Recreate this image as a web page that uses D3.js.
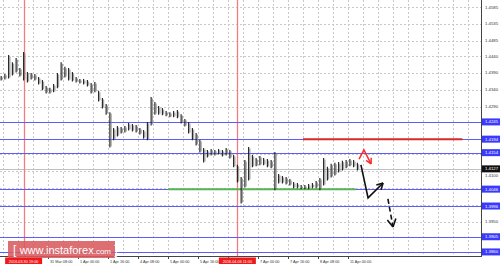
<!DOCTYPE html>
<html>
<head>
<meta charset="utf-8">
<script src="https://cdn.jsdelivr.net/npm/d3@7"></script>
<style>
  html, body { margin: 0; padding: 0; background: #fff; }
  svg { display: block; font-family: "Liberation Sans", Arial, sans-serif; }
</style>
</head>
<body>
<svg id="chart" width="500" height="265"></svg>
<script>
// H1 bars, one drawn every 2 hours, index 0 = 30 Mar 16:00
const firstBar = -9;
const barStep = 2;
const highs = [
  1.4381, 1.4387, 1.4443, 1.4422, 1.4434, 1.4405, 1.4452, 1.4393, 1.4390, 1.4387,
  1.4378, 1.4369, 1.4351, 1.4346, 1.4357, 1.4390, 1.4422, 1.4408, 1.4405, 1.4393,
  1.4378, 1.4372, 1.4372, 1.4369, 1.4360, 1.4363, 1.4337, 1.4316, 1.4298, 1.4274,
  1.4227, 1.4233, 1.4230, 1.4233, 1.4242, 1.4239, 1.4236, 1.4227, 1.4221, 1.4245,
  1.4319, 1.4304, 1.4292, 1.4286, 1.4277, 1.4274, 1.4277, 1.4280, 1.4268, 1.4254,
  1.4245, 1.4227, 1.4212, 1.4192, 1.4168, 1.4162, 1.4165, 1.4162, 1.4165, 1.4162,
  1.4168, 1.4162, 1.4147, 1.4118, 1.4082, 1.4132, 1.4171, 1.4147, 1.4138, 1.4144,
  1.4138, 1.4135, 1.4132, 1.4156, 1.4091, 1.4085, 1.4082, 1.4076, 1.4067, 1.4064,
  1.4058, 1.4058, 1.4061, 1.4064, 1.4070, 1.4079, 1.4138, 1.4112, 1.4121, 1.4124,
  1.4126, 1.4130, 1.4132, 1.4135, 1.4132, 1.4124
];
const lows = [
  1.4369, 1.4372, 1.4375, 1.4384, 1.4393, 1.4381, 1.4369, 1.4363, 1.4372, 1.4369,
  1.4357, 1.4340, 1.4331, 1.4331, 1.4334, 1.4346, 1.4369, 1.4378, 1.4369, 1.4366,
  1.4363, 1.4360, 1.4357, 1.4351, 1.4331, 1.4334, 1.4307, 1.4286, 1.4268, 1.4171,
  1.4192, 1.4203, 1.4212, 1.4215, 1.4221, 1.4218, 1.4215, 1.4209, 1.4197, 1.4192,
  1.4236, 1.4268, 1.4268, 1.4266, 1.4263, 1.4260, 1.4260, 1.4257, 1.4242, 1.4233,
  1.4212, 1.4192, 1.4177, 1.4156, 1.4126, 1.4141, 1.4147, 1.4147, 1.4150, 1.4144,
  1.4147, 1.4138, 1.4112, 1.4067, 1.4005, 1.4052, 1.4073, 1.4112, 1.4115, 1.4118,
  1.4118, 1.4112, 1.4109, 1.4044, 1.4064, 1.4064, 1.4061, 1.4058, 1.4050, 1.4050,
  1.4047, 1.4047, 1.4047, 1.4050, 1.4050, 1.4044, 1.4058, 1.4073, 1.4082, 1.4088,
  1.4097, 1.4103, 1.4109, 1.4115, 1.4112, 1.4103
];

// time labels (the ones at 30 Mar 16:00 and 6 Apr 08:00 sit under the red markers)
const timeTicks = [0, 16, 32, 48, 64, 80, 96, 112, 128, 144, 160, 176];
const labelTicks = [16, 32, 48, 64, 80, 96, 128, 144, 160, 176];
const timeLabels = ["31 Mar 08:00", "1 Apr 00:00", "1 Apr 16:00", "4 Apr 08:00",
  "5 Apr 00:00", "5 Apr 16:00", "7 Apr 00:00", "7 Apr 16:00", "8 Apr 08:00", "11 Apr 00:00"];
const markerBars = [3, 117];
const markerLabels = ["2016.03.30 19:00", "2016.04.06 11:00"];

const gridPrices = [1.4585, 1.4535, 1.4485, 1.4440, 1.4390, 1.4340, 1.4290, 1.4245, 1.4195,
  1.4150, 1.4100, 1.4050, 1.4000, 1.3950, 1.3905, 1.3860];
const gridLabels = ["1.4585", "1.4535", "1.4485", "1.4440", "1.4390", "1.4340", "1.4290", "1.4100", "1.3950"];
const blueLevels = [1.4245, 1.4194, 1.4154, 1.4046, 1.3996, 1.3905, 1.3860];
const blueLabels = ["1.4245", "1.4194", "1.4154", "1.4046", "1.3996", "1.3905", "1.3860"];
const redLevel = 1.4194;
const redLevelBars = [152, 237];
const greenLevel = 1.4046;
const greenLevelBars = [80, 180];
const bidPrice = 1.4106;
const bidLabel = "1.4127";

// forecast arrows (bar index, price)
const redArrowBars = [181.9, 184.5, 188.3];
const redArrowPrices = [1.4135, 1.4162, 1.4121];
const solidArrowBars = [182.9, 186.7, 194.7];
const solidArrowPrices = [1.4118, 1.4020, 1.4064];
const dashArrowBars = [197.3, 200];
const dashArrowPrices = [1.4017, 1.3934];

const plotW = 481, plotH = 256;
const svg = d3.select("#chart");

const x = d3.scaleLinear().domain([0, 176]).range([18, 348]);
const y = d3.scaleLinear().domain([1.3848, 1.4606]).range([plotH, 0]);

const plot = svg.append("g");
plot.append("clipPath").attr("id", "clip")
  .append("rect").attr("width", plotW).attr("height", plotH);
const inner = plot.append("g").attr("clip-path", "url(#clip)");

// grid
inner.selectAll(".vg").data(d3.range(-8, 248, 8)).join("line")
  .attr("x1", d => x(d) + 0.5).attr("x2", d => x(d) + 0.5)
  .attr("y1", 0).attr("y2", plotH)
  .attr("stroke", "#c8c8c8").attr("stroke-dasharray", "2,2");
inner.selectAll(".hg").data(gridPrices).join("line")
  .attr("x1", 0).attr("x2", plotW)
  .attr("y1", d => Math.round(y(d)) + 0.5).attr("y2", d => Math.round(y(d)) + 0.5)
  .attr("stroke", "#c8c8c8").attr("stroke-dasharray", "2,2");

// bid line
inner.append("line")
  .attr("x1", 0).attr("x2", plotW)
  .attr("y1", Math.round(y(bidPrice)) + 0.5).attr("y2", Math.round(y(bidPrice)) + 0.5)
  .attr("stroke", "#c0c0c0");

// vertical red markers
inner.selectAll(".vm").data(markerBars).join("line")
  .attr("x1", d => Math.round(x(d)) + 0.5).attr("x2", d => Math.round(x(d)) + 0.5)
  .attr("y1", 0).attr("y2", plotH)
  .attr("stroke", "#f47c7c").attr("stroke-width", 1.3);

// blue levels
inner.selectAll(".bl").data(blueLevels).join("line")
  .attr("x1", 0).attr("x2", plotW)
  .attr("y1", d => Math.round(y(d)) + 0.5).attr("y2", d => Math.round(y(d)) + 0.5)
  .attr("stroke", "#5c5cff").attr("stroke-width", 1);

// red and green levels
inner.append("line")
  .attr("x1", x(redLevelBars[0])).attr("x2", x(redLevelBars[1]))
  .attr("y1", y(redLevel)).attr("y2", y(redLevel))
  .attr("stroke", "#d42a2a").attr("stroke-width", 2);
inner.append("line")
  .attr("x1", x(greenLevelBars[0])).attr("x2", x(greenLevelBars[1]))
  .attr("y1", y(greenLevel)).attr("y2", y(greenLevel))
  .attr("stroke", "#55b455").attr("stroke-width", 2);

// price bars
const bars = highs.map((h, k) => ({ i: firstBar + k * barStep, h: h, l: lows[k] }));
inner.selectAll(".barL").data(bars).join("line")
  .attr("x1", d => x(d.i) + 1.3).attr("x2", d => x(d.i) + 1.3)
  .attr("y1", d => y(d.h) + 1.5).attr("y2", d => y(d.l) - 0.5)
  .attr("stroke", "#8a8a8a").attr("stroke-width", 0.9);
inner.selectAll(".bar").data(bars).join("line")
  .attr("x1", d => x(d.i)).attr("x2", d => x(d.i))
  .attr("y1", d => y(d.h)).attr("y2", d => y(d.l) + 0.5)
  .attr("stroke", "#1a1a1a").attr("stroke-width", 1.1);

// arrows
function arrowHead(g, pts, len, color, width) {
  const a = pts[pts.length - 2], b = pts[pts.length - 1];
  const ang = Math.atan2(b[1] - a[1], b[0] - a[0]);
  [-0.5, 0.5].forEach(s => {
    g.append("line")
      .attr("x1", b[0]).attr("y1", b[1])
      .attr("x2", b[0] - len * Math.cos(ang + s)).attr("y2", b[1] - len * Math.sin(ang + s))
      .attr("stroke", color).attr("stroke-width", width);
  });
}
const line = d3.line();
const redPts = redArrowBars.map((b, k) => [x(b), y(redArrowPrices[k])]);
inner.append("path").attr("d", line(redPts)).attr("fill", "none")
  .attr("stroke", "#ff2a2a").attr("stroke-width", 1.5);
arrowHead(inner, redPts, 6, "#ff2a2a", 1.5);

const solidPts = solidArrowBars.map((b, k) => [x(b), y(solidArrowPrices[k])]);
inner.append("path").attr("d", line(solidPts)).attr("fill", "none")
  .attr("stroke", "#111").attr("stroke-width", 1.6);
arrowHead(inner, solidPts, 7, "#111", 1.6);

const dashPts = dashArrowBars.map((b, k) => [x(b), y(dashArrowPrices[k])]);
inner.append("path").attr("d", line(dashPts)).attr("fill", "none")
  .attr("stroke", "#111").attr("stroke-width", 1.6).attr("stroke-dasharray", "5,3");
arrowHead(inner, dashPts, 9, "#111", 1.6);

// axes lines
svg.append("line").attr("x1", plotW + 0.5).attr("x2", plotW + 0.5).attr("y1", 0).attr("y2", plotH + 1)
  .attr("stroke", "#444");
svg.append("line").attr("x1", 0).attr("x2", plotW + 1).attr("y1", plotH + 0.5).attr("y2", plotH + 0.5)
  .attr("stroke", "#444");

// right price labels (a grid label next to the bid box is pushed just below it)
const shown = gridPrices.filter(p => gridLabels.includes(p.toFixed(4)));
svg.selectAll(".gl").data(shown).join("text")
  .attr("x", plotW + 4)
  .attr("y", d => Math.abs(y(d) - y(bidPrice)) < 7 ? y(bidPrice) + 7.8 : y(d) + 1.5)
  .attr("font-size", 4.3).attr("fill", "#333")
  .text(d => d.toFixed(4));

const bidG = svg.append("g");
bidG.append("rect").attr("x", plotW + 1).attr("y", y(bidPrice) - 3.5).attr("width", 18).attr("height", 7)
  .attr("fill", "#111");
bidG.append("text").attr("x", plotW + 4).attr("y", y(bidPrice) + 1.5)
  .attr("font-size", 4.3).attr("fill", "#fff").text(bidLabel);

const bl = svg.selectAll(".blab").data(blueLevels).join("g");
bl.append("rect").attr("x", plotW + 1).attr("y", d => y(d) - 3.5).attr("width", 18).attr("height", 7)
  .attr("fill", "#3a3aff");
bl.append("text").attr("x", plotW + 4).attr("y", d => y(d) + 1.5)
  .attr("font-size", 4.3).attr("fill", "#fff").text((d, k) => blueLabels[k]);

// bottom time labels
svg.selectAll(".tk").data(timeTicks).join("line")
  .attr("x1", d => x(d) + 0.5).attr("x2", d => x(d) + 0.5)
  .attr("y1", plotH).attr("y2", plotH + 3).attr("stroke", "#444");
svg.selectAll(".tl").data(labelTicks).join("text")
  .attr("x", d => x(d) + 2).attr("y", plotH + 6.5)
  .attr("font-size", 3.8).attr("fill", "#333")
  .text((d, k) => timeLabels[k]);

const mk = svg.selectAll(".mk").data(markerBars).join("g");
mk.append("rect").attr("x", d => x(d) - 18.5).attr("y", plotH + 1.5).attr("width", 37).attr("height", 6.5)
  .attr("fill", "#f01818");
mk.append("text").attr("x", d => x(d)).attr("y", plotH + 6.5).attr("text-anchor", "middle")
  .attr("font-size", 3.8).attr("fill", "#fff")
  .text((d, k) => markerLabels[k]);

// watermark
const wm = svg.append("g");
wm.append("rect").attr("x", 8).attr("y", 241).attr("width", 107).attr("height", 17)
  .attr("fill", "#d85a5e").attr("opacity", 0.88);
const wt = wm.append("text").attr("x", 13).attr("y", 254).attr("fill", "#fff");
wt.append("tspan").attr("font-size", 12).text("[ ");
wt.append("tspan").attr("font-size", 11).text("www.instaforex");
wt.append("tspan").attr("font-size", 8).text(".com");
wt.append("tspan").attr("font-size", 12).text(" ]");
</script>
</body>
</html>
